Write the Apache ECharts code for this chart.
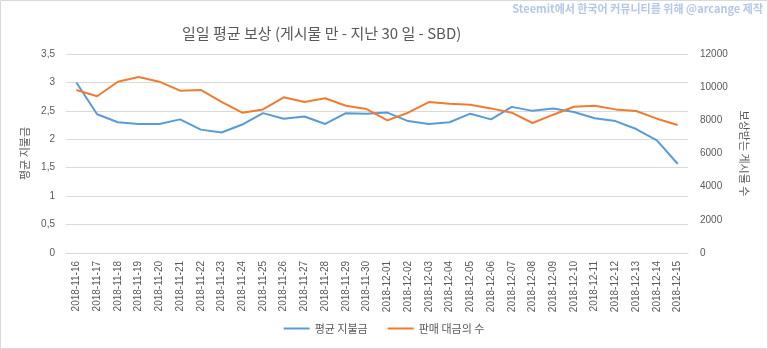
<!DOCTYPE html>
<html>
<head>
<meta charset="utf-8">
<script src="https://cdn.jsdelivr.net/npm/echarts@6/dist/echarts.min.js"></script>
<style>
html,body{margin:0;padding:0;background:#fff;}
#c{width:768px;height:349px;}
</style>
</head>
<body>
<div id="c"></div>
<script>
const categories = ['2018-11-16','2018-11-17','2018-11-18','2018-11-19','2018-11-20','2018-11-21','2018-11-22','2018-11-23','2018-11-24','2018-11-25','2018-11-26','2018-11-27','2018-11-28','2018-11-29','2018-11-30','2018-12-01','2018-12-02','2018-12-03','2018-12-04','2018-12-05','2018-12-06','2018-12-07','2018-12-08','2018-12-09','2018-12-10','2018-12-11','2018-12-12','2018-12-13','2018-12-14','2018-12-15'];
const avgPayout = [3.0,2.44,2.30,2.27,2.27,2.35,2.17,2.12,2.26,2.46,2.36,2.40,2.27,2.46,2.45,2.47,2.32,2.27,2.30,2.45,2.35,2.57,2.50,2.54,2.48,2.37,2.32,2.18,1.98,1.57];
const postCount = [9830,9450,10330,10610,10330,9790,9830,9120,8460,8660,9390,9100,9330,8880,8680,8000,8460,9100,9000,8940,8720,8460,7840,8340,8820,8880,8660,8560,8100,7720];
const leftTicks = {min:0, max:3.5, interval:0.5};
const rightTicks = {min:0, max:12000, interval:2000};
const seriesNames = ['평균 지불금','판매 대금의 수'];
const titleText = '일일 평균 보상 (게시물 만 - 지난 30 일 - SBD)';
const watermark = 'Steemit에서 한국어 커뮤니티를 위해 @arcange 제작';
const leftName = '평균 지불금';
const rightName = '보상받는 게시물 수';

const FONT = "'Liberation Sans','Noto Sans CJK KR',sans-serif";
const chart = echarts.init(document.getElementById('c'));
chart.setOption({
  backgroundColor:'#fff',
  animation:false,
  textStyle:{fontFamily:FONT},
  title:{text:titleText,left:177,top:21,textStyle:{fontSize:15,fontWeight:'normal',color:'#595959',fontFamily:"'Noto Sans CJK KR',sans-serif"}},
  graphic:[
    {type:'rect',shape:{x:0.5,y:0.5,width:767,height:348},style:{fill:'none',stroke:'#d9d9d9',lineWidth:1},silent:true},
    {type:'text',right:5,top:3,style:{text:watermark,fill:'#b4c7e7',font:"bold 11px 'Noto Sans CJK KR',sans-serif"}}
  ],
  legend:{bottom:10,left:'center',itemWidth:26,itemHeight:2,itemGap:20,icon:'rect',
    textStyle:{fontSize:11,color:'#595959',fontFamily:"'Noto Sans CJK KR',sans-serif"},data:seriesNames},
  grid:{left:66,right:80,top:54,bottom:96,containLabel:false},
  xAxis:{type:'category',data:categories,boundaryGap:true,
    axisLine:{lineStyle:{color:'#d9d9d9'}},axisTick:{show:false},
    axisLabel:{rotate:90,fontSize:10,color:'#595959',interval:0,margin:8}},
  yAxis:[
    {type:'value',min:leftTicks.min,max:leftTicks.max,interval:leftTicks.interval,position:'left',
     name:leftName,nameLocation:'middle',nameGap:34,nameRotate:90,
     nameTextStyle:{fontSize:11,color:'#595959',fontFamily:"'Noto Sans CJK KR',sans-serif"},
     axisLabel:{fontSize:10,color:'#595959',margin:11,formatter:v=>String(v).replace('.',',')},
     axisLine:{show:false},axisTick:{show:false},
     splitLine:{lineStyle:{color:'#d9d9d9'}}},
    {type:'value',min:rightTicks.min,max:rightTicks.max,interval:rightTicks.interval,position:'right',
     name:rightName,nameLocation:'middle',nameGap:47,nameRotate:-90,
     nameTextStyle:{fontSize:11,color:'#595959',fontFamily:"'Noto Sans CJK KR',sans-serif"},
     axisLabel:{fontSize:10,color:'#595959',margin:12,formatter:v=>String(v)},
     axisLine:{show:false},axisTick:{show:false},splitLine:{show:false}}
  ],
  series:[
    {name:seriesNames[0],type:'line',yAxisIndex:0,data:avgPayout,symbol:'none',
     lineStyle:{color:'#5b9bd5',width:2},itemStyle:{color:'#5b9bd5'}},
    {name:seriesNames[1],type:'line',yAxisIndex:1,data:postCount,symbol:'none',
     lineStyle:{color:'#ed7d31',width:2},itemStyle:{color:'#ed7d31'}}
  ]
});
</script>
</body>
</html>
